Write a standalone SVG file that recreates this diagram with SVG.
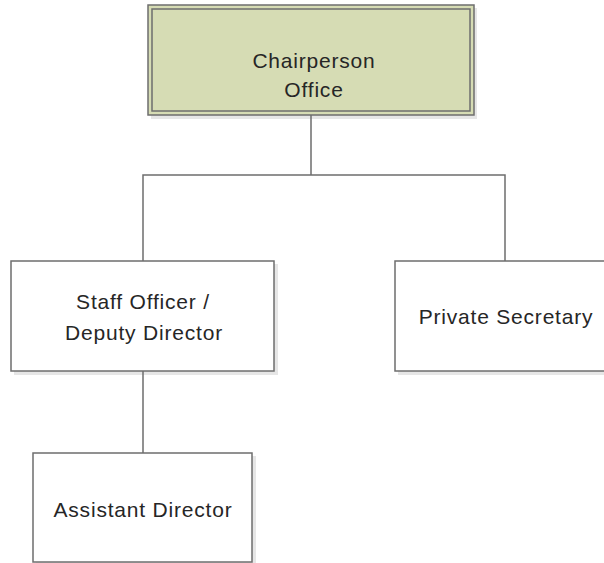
<svg xmlns="http://www.w3.org/2000/svg" width="604" height="563" viewBox="0 0 604 563">
<style>
.box{fill:#ffffff;stroke:#6e6e6e;stroke-width:1.5}
.top{fill:#d6dcb4;stroke:#6e6e6e;stroke-width:1.5}
.inner{fill:none;stroke:#6e6e6e;stroke-width:1.5}
.shadow{fill:#e6e6e6}
.conn{fill:none;stroke:#6e6e6e;stroke-width:1.5}
text{font-family:"Liberation Sans",Arial,sans-serif;font-size:21px;letter-spacing:0.8px;fill:#262626;text-anchor:middle}
</style>
<rect width="604" height="563" fill="#ffffff"/>
<g id="chairperson">
<rect class="shadow" x="151" y="8" width="326" height="111"/>
<rect class="top" x="148" y="5" width="326" height="110"/>
<rect class="inner" x="152" y="9" width="318" height="102"/>
<text x="314" y="68">Chairperson</text>
<text x="314" y="97">Office</text>
</g>
<g id="staff">
<rect class="shadow" x="14" y="264" width="264" height="111"/>
<rect class="box" x="11" y="261" width="263" height="110"/>
<text x="143" y="309">Staff Officer /</text>
<text x="144" y="340">Deputy Director</text>
</g>
<g id="private">
<rect class="shadow" x="398" y="264" width="220" height="111"/>
<rect class="box" x="395" y="261" width="220" height="110"/>
<text x="506" y="324">Private Secretary</text>
</g>
<g id="assistant">
<rect class="shadow" x="36" y="456" width="220" height="110"/>
<rect class="box" x="33" y="453" width="219" height="109"/>
<text x="143" y="517">Assistant Director</text>
</g>
<g id="connectors">
<path class="conn" d="M311 115 V175 M143 261 V175 H505 V261 M143 371 V453"/>
</g>
</svg>
